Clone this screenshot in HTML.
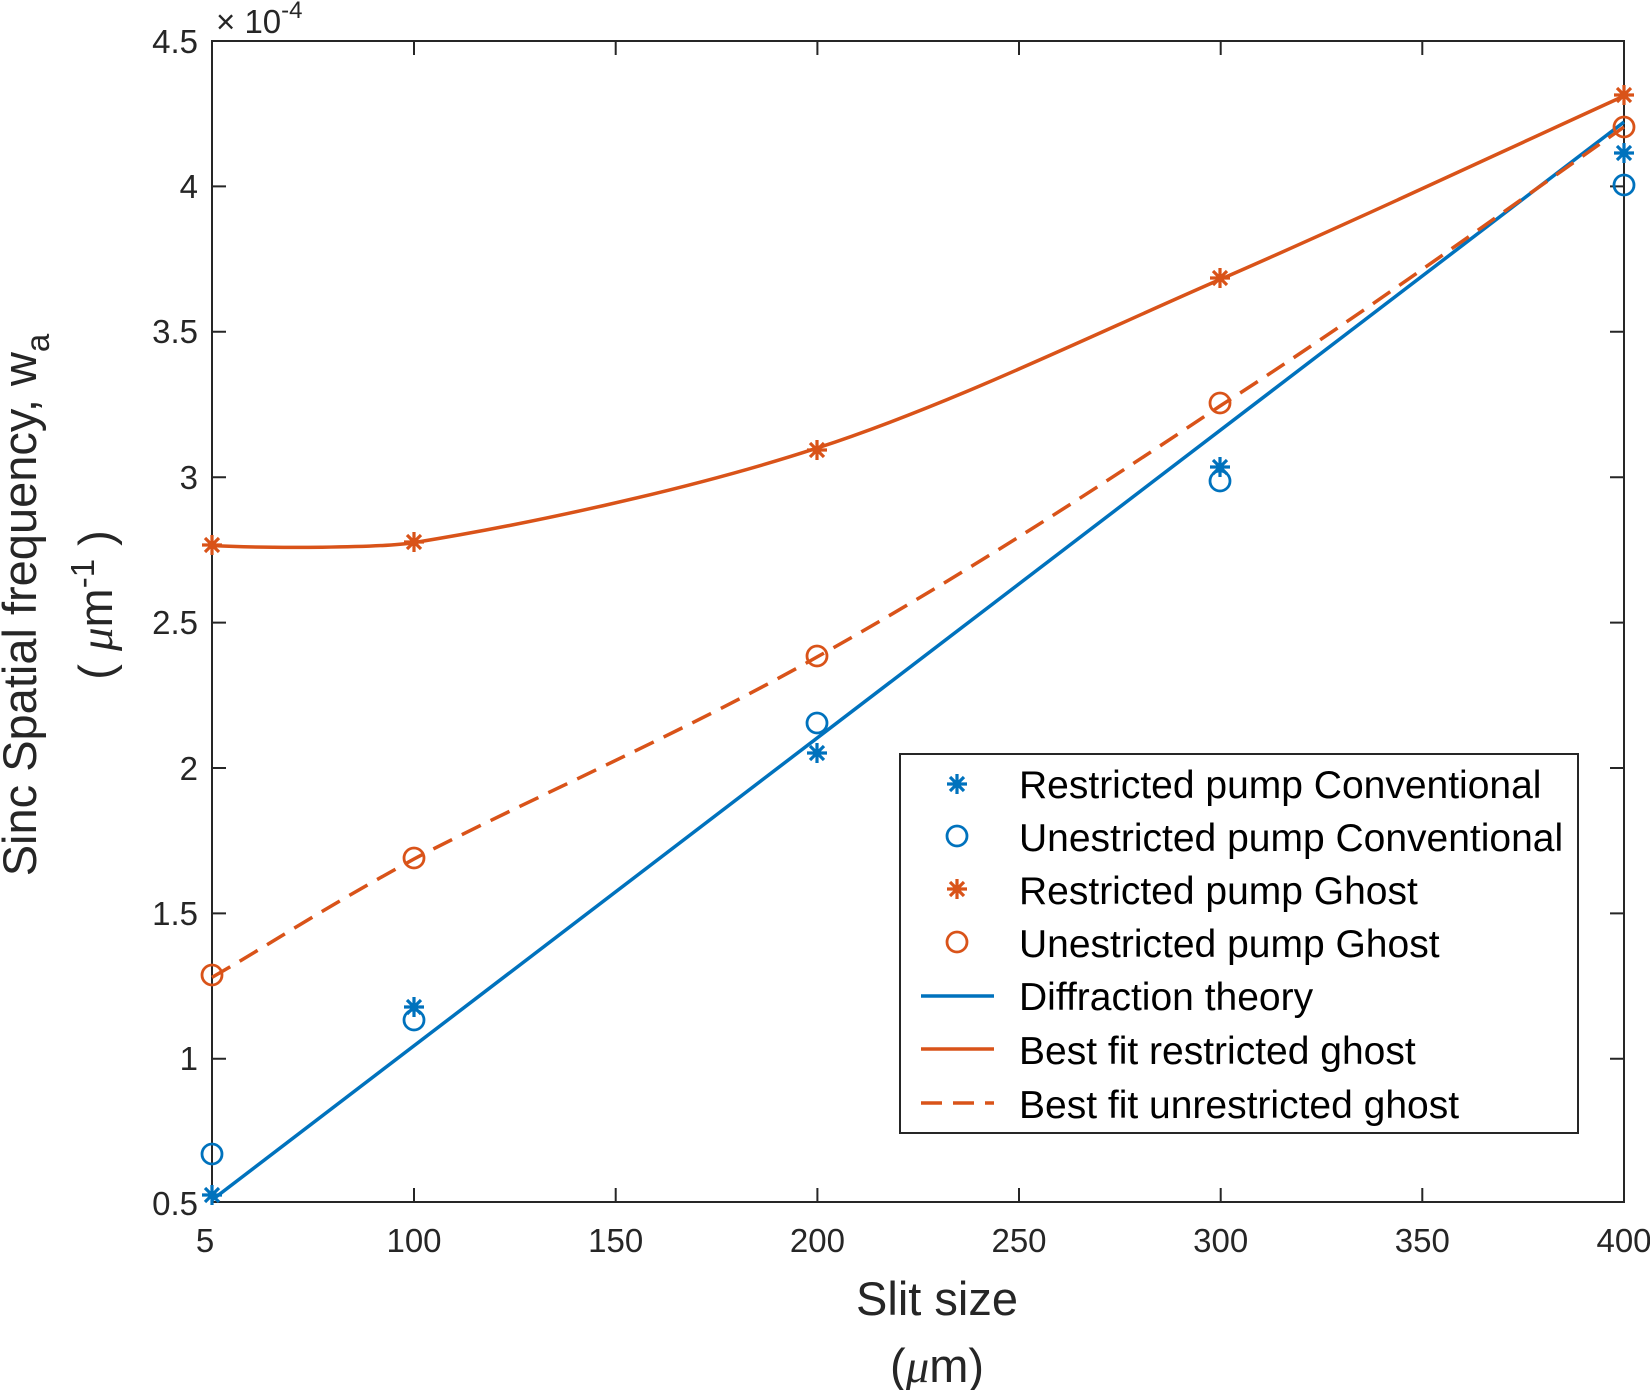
<!DOCTYPE html>
<html><head><meta charset="utf-8"><style>
html,body{margin:0;padding:0;background:#fff;}
svg text{font-family:"Liberation Sans",Arial,sans-serif;fill:#262626;}
</style></head><body>
<svg width="1650" height="1390" viewBox="0 0 1650 1390" xmlns="http://www.w3.org/2000/svg">
<defs>
<g id="st"><path d="M-10,0H10M0,-10V10M-7,-7L7,7M-7,7L7,-7" stroke-width="3.2" fill="none"/></g>
</defs>
<rect x="212" y="41" width="1412" height="1161" fill="none" stroke="#262626" stroke-width="2"/>
<g stroke="#262626" stroke-width="2">
<path d="M414,1202v-14M615.7,1202v-14M817.4,1202v-14M1019,1202v-14M1220.7,1202v-14M1422.3,1202v-14
M414,41v14M615.7,41v14M817.4,41v14M1019,41v14M1220.7,41v14M1422.3,41v14"/>
<path d="M212,186.4h14M212,331.8h14M212,477.2h14M212,622.6h14M212,768h14M212,913.4h14M212,1058.8h14
M1624,186.4h-14M1624,331.8h-14M1624,477.2h-14M1624,622.6h-14M1624,768h-14M1624,913.4h-14M1624,1058.8h-14"/>
</g>
<g font-size="33" text-anchor="middle">
<text x="205" y="1252">5</text>
<text x="414" y="1252">100</text>
<text x="615.7" y="1252">150</text>
<text x="817.4" y="1252">200</text>
<text x="1019" y="1252">250</text>
<text x="1220.7" y="1252">300</text>
<text x="1422.3" y="1252">350</text>
<text x="1624" y="1252">400</text>
</g>
<g font-size="33" text-anchor="end">
<text x="198" y="53">4.5</text>
<text x="198" y="198">4</text>
<text x="198" y="343">3.5</text>
<text x="198" y="489">3</text>
<text x="198" y="634">2.5</text>
<text x="198" y="780">2</text>
<text x="198" y="925">1.5</text>
<text x="198" y="1070">1</text>
<text x="198" y="1215">0.5</text>
</g>
<text x="216" y="33" font-size="33">× 10<tspan font-size="24" dy="-15">-4</tspan></text>
<text x="937" y="1315" font-size="47" text-anchor="middle">Slit size</text>
<text x="937" y="1382" font-size="47" text-anchor="middle">(<tspan font-family="Liberation Serif" font-style="italic">μ</tspan>m)</text>
<g transform="translate(36,605) rotate(-90)">
<text x="0" y="0" font-size="47" text-anchor="middle">Sinc Spatial frequency, w<tspan font-size="33" dy="13">a</tspan></text>
</g>
<g transform="translate(112,605) rotate(-90)">
<text x="0" y="0" font-size="47" text-anchor="middle">( <tspan font-family="Liberation Serif" font-style="italic">μ</tspan>m<tspan font-size="33" dy="-18">-1</tspan><tspan dy="18"> )</tspan></text>
</g>
<path d="M212,1200L1624,122" stroke="#0072BD" stroke-width="3.5" fill="none"/>
<path d="M212,545.5C270,548.5 380.4,548 414,542.6C514.8,526.4 682.7,492 817,448.1C951.3,404.2 1085.5,338.1 1220,279.5C1354.5,220.9 1489.3,157.4 1624,96" stroke="#D95319" stroke-width="3.5" fill="none"/>
<path d="M212,977.4C279.3,938.6 313.2,914.4 414,859C514.8,805.8 682.7,733 817,657C951.3,582 1085.5,496.2 1220,406C1354.5,319.8 1489.3,221.5 1624,127" stroke="#D95319" stroke-width="3.5" fill="none" stroke-dasharray="21,11"/>
<g stroke="#0072BD">
<use href="#st" x="212" y="1195"/><use href="#st" x="414" y="1007"/><use href="#st" x="817" y="753"/><use href="#st" x="1220" y="467"/><use href="#st" x="1624" y="153"/>
</g>
<g stroke="#0072BD" stroke-width="2.8" fill="none">
<circle cx="212" cy="1154" r="10"/><circle cx="414" cy="1020" r="10"/><circle cx="817" cy="723" r="10"/><circle cx="1220" cy="481" r="10"/><circle cx="1624" cy="185" r="10"/>
</g>
<g stroke="#D95319">
<use href="#st" x="212" y="545"/><use href="#st" x="414" y="542"/><use href="#st" x="817" y="450"/><use href="#st" x="1220" y="278"/><use href="#st" x="1624" y="95"/>
</g>
<g stroke="#D95319" stroke-width="2.8" fill="none">
<circle cx="212" cy="975" r="10"/><circle cx="414" cy="858" r="10"/><circle cx="817" cy="656" r="10"/><circle cx="1220" cy="403" r="10"/><circle cx="1624" cy="127" r="10"/>
</g>
<rect x="900" y="754" width="678" height="379" fill="#fff" stroke="#262626" stroke-width="2"/>
<g font-size="39">
<text x="1019" y="798" style="fill:#000">Restricted pump Conventional</text>
<text x="1019" y="851" style="fill:#000">Unestricted pump Conventional</text>
<text x="1019" y="904" style="fill:#000">Restricted pump Ghost</text>
<text x="1019" y="957" style="fill:#000">Unestricted pump Ghost</text>
<text x="1019" y="1010" style="fill:#000">Diffraction theory</text>
<text x="1019" y="1064" style="fill:#000">Best fit restricted ghost</text>
<text x="1019" y="1118" style="fill:#000">Best fit unrestricted ghost</text>
</g>
<use href="#st" x="957" y="784" stroke="#0072BD"/>
<circle cx="957" cy="836" r="10" stroke="#0072BD" stroke-width="2.8" fill="none"/>
<use href="#st" x="957" y="889" stroke="#D95319"/>
<circle cx="957" cy="942" r="10" stroke="#D95319" stroke-width="2.8" fill="none"/>
<path d="M921,996H994" stroke="#0072BD" stroke-width="3.5"/>
<path d="M921,1049H994" stroke="#D95319" stroke-width="3.5"/>
<path d="M921,1103H994" stroke="#D95319" stroke-width="3.5" stroke-dasharray="21,11"/>
</svg>
</body></html>
